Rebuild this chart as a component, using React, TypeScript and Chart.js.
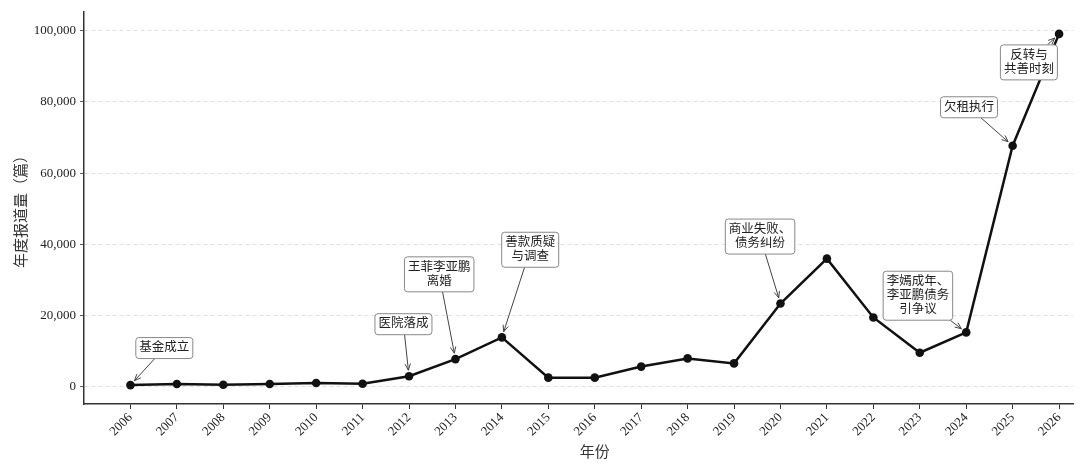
import React, { useEffect, useRef } from "react";
import { Chart, registerables, Plugin } from "chart.js";

Chart.register(...registerables);

// yearly report counts
const years = [
    2006, 2007, 2008, 2009, 2010, 2011, 2012, 2013, 2014, 2015, 2016,
    2017, 2018, 2019, 2020, 2021, 2022, 2023, 2024, 2025, 2026,
];
const reports = [
    500, 800, 600, 800, 1100, 900, 3000, 7800, 13900, 2600, 2600,
    5700, 8000, 6600, 23400, 36000, 19500, 9600, 15300, 67700, 99100,
];
const yTicks = [0, 20000, 40000, 60000, 80000, 100000];

const eventYears = [2006, 2012, 2013, 2014, 2020, 2024, 2025, 2026];
const eventLabels = [
    "基金成立",
    "医院落成",
    "王菲李亚鹏\n离婚",
    "善款质疑\n与调查",
    "商业失败、\n债务纠纷",
    "李嫣成年、\n李亚鹏债务\n引争议",
    "欠租执行",
    "反转与\n共善时刻",
];

// where each label box sits, in data units (like xytext)
const notePlacement: [number, number][] = [
    [2006.73, 10900],
    [2011.88, 17600],
    [2012.65, 31600],
    [2014.61, 38500],
    [2019.56, 42200],
    [2022.96, 25600],
    [2024.06, 78500],
    [2025.35, 91100],
];

const CJK_SERIF = '"Liberation Serif", "Noto Sans CJK SC", serif';
const CJK_SANS = '"Noto Sans CJK SC", "Noto Sans", sans-serif';

const annotate: Plugin<"line"> = {
    id: "annotate",
    afterDatasetsDraw(chart) {
        const { ctx } = chart;
        const xs = chart.scales.x;
        const ys = chart.scales.y;
        const fontSize = 12.5;
        const lineH = 14;
        const padH = 3.5;
        const padV = 3.5;
        ctx.save();
        ctx.font = `${fontSize}px ${CJK_SERIF}`;
        eventLabels.forEach((label, i) => {
            const yr = eventYears[i];
            const val = reports[years.indexOf(yr)];
            const px = xs.getPixelForValue(yr);
            const py = ys.getPixelForValue(val);
            const tx = xs.getPixelForValue(notePlacement[i][0]);
            const ty = ys.getPixelForValue(notePlacement[i][1]);
            const lines = label.split("\n");
            const w = Math.max(...lines.map((l) => ctx.measureText(l).width)) + padH * 2;
            const h = lines.length * lineH + padV * 2;
            const bx = tx - w / 2;
            const by = ty - h / 2;

            // arrow from box edge to point
            const dx = px - tx;
            const dy = py - ty;
            const dist = Math.hypot(dx, dy);
            const ux = dx / dist;
            const uy = dy / dist;
            const tEdge = Math.min(
                Math.abs(dx) > 0 ? w / 2 / Math.abs(dx) : Infinity,
                Math.abs(dy) > 0 ? h / 2 / Math.abs(dy) : Infinity
            );
            const sx = tx + dx * tEdge;
            const sy = ty + dy * tEdge;
            const ex = px - ux * 6;
            const ey = py - uy * 6;
            ctx.strokeStyle = "#444";
            ctx.lineWidth = 1;
            ctx.beginPath();
            ctx.moveTo(sx, sy);
            ctx.lineTo(ex, ey);
            const ang = Math.atan2(uy, ux);
            const hl = 7;
            const ha = 0.4;
            ctx.moveTo(ex - hl * Math.cos(ang - ha), ey - hl * Math.sin(ang - ha));
            ctx.lineTo(ex, ey);
            ctx.lineTo(ex - hl * Math.cos(ang + ha), ey - hl * Math.sin(ang + ha));
            ctx.stroke();

            // label box
            ctx.beginPath();
            ctx.roundRect(bx, by, w, h, 3);
            ctx.fillStyle = "#fff";
            ctx.fill();
            ctx.strokeStyle = "#888";
            ctx.stroke();

            ctx.fillStyle = "#222";
            ctx.textAlign = "center";
            ctx.textBaseline = "middle";
            lines.forEach((l, j) => {
                ctx.fillText(l, tx, by + padV + lineH * (j + 0.5));
            });
        });

        // x axis title, centred on the full (uncropped) axes width
        ctx.font = `15px ${CJK_SANS}`;
        ctx.fillStyle = "#333";
        ctx.textAlign = "center";
        ctx.textBaseline = "middle";
        const mid = (xs.left + xs.getPixelForValue(2027)) / 2;
        ctx.fillText("年份", mid, 451);
        ctx.restore();
    },
};

const App = () => {
    const canvasRef = useRef<HTMLCanvasElement | null>(null);
    const chartRef = useRef<Chart | null>(null);

    useEffect(() => {
        document.body.style.margin = "0";
        if (chartRef.current) {
            chartRef.current.destroy();
        }
        const ctx = canvasRef.current?.getContext("2d");
        if (!ctx) return;

        chartRef.current = new Chart(ctx, {
            type: "line",
            data: {
                datasets: [
                    {
                        data: years.map((y, i) => ({ x: y, y: reports[i] })),
                        borderColor: "#111",
                        backgroundColor: "#111",
                        borderWidth: 2.5,
                        pointRadius: 4.3,
                        pointBorderWidth: 0,
                        tension: 0,
                    },
                ],
            },
            options: {
                animation: false,
                responsive: false,
                devicePixelRatio: 1,
                layout: { padding: { left: 0, right: 7, top: 10, bottom: 0 } },
                plugins: {
                    legend: { display: false },
                    tooltip: { enabled: false },
                },
                scales: {
                    x: {
                        type: "linear",
                        min: 2005,
                        max: 2026.3,
                        afterBuildTicks: (scale) => {
                            scale.ticks = years.map((v) => ({ value: v }));
                        },
                        afterFit: (scale) => {
                            scale.height = 62;
                        },
                        ticks: {
                            autoSkip: false,
                            minRotation: 45,
                            maxRotation: 45,
                            padding: 1,
                            color: "#222",
                            font: { family: CJK_SERIF, size: 13 },
                            callback: (v) => String(v),
                        },
                        grid: {
                            drawOnChartArea: false,
                            drawTicks: true,
                            tickLength: 5,
                            tickColor: "#333",
                        },
                        border: { color: "#333", width: 1.5 },
                    },
                    y: {
                        type: "linear",
                        min: -4800,
                        max: 105300,
                        afterBuildTicks: (scale) => {
                            scale.ticks = yTicks.map((v) => ({ value: v }));
                        },
                        afterFit: (scale) => {
                            scale.width = 84;
                        },
                        ticks: {
                            padding: 4,
                            color: "#222",
                            font: { family: CJK_SERIF, size: 13 },
                            callback: (v) => Number(v).toLocaleString("en-US"),
                        },
                        grid: {
                            color: "#d8d8d8",
                            lineWidth: 0.8,
                            tickLength: 4,
                            tickColor: "#333",
                            tickBorderDash: [],
                        },
                        border: { color: "#333", width: 1.5, dash: [4, 3] },
                        title: {
                            display: true,
                            text: "年度报道量（篇）",
                            color: "#333",
                            font: { family: CJK_SANS, size: 15 },
                            padding: 11,
                        },
                    },
                },
            },
            plugins: [annotate],
        });

        return () => {
            if (chartRef.current) {
                chartRef.current.destroy();
                chartRef.current = null;
            }
        };
    }, []);

    return (
        <div>
            <canvas ref={canvasRef} width={1080} height={466} />
        </div>
    );
};

export default App;
